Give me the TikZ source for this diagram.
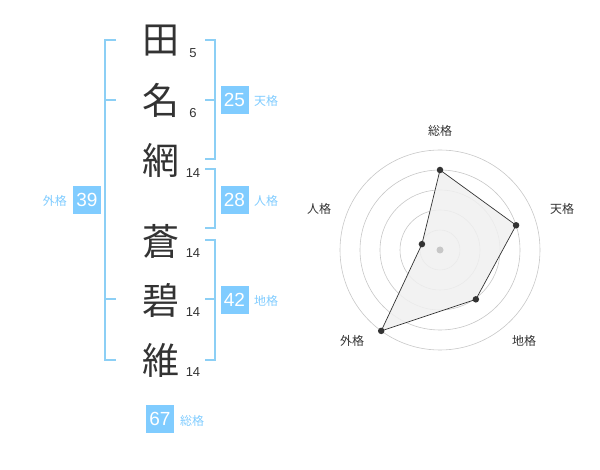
\documentclass[tikz,border=0pt]{standalone}
\usepackage{fontspec}
\setmainfont{Liberation Sans}
\newfontfamily\cjk{Noto Sans CJK JP}
\definecolor{kblue}{HTML}{80CCFF}
\definecolor{kline}{HTML}{8CCFF5}
\definecolor{ktext}{HTML}{333333}
\begin{document}
\begin{tikzpicture}[x=1pt,y=-1pt,
  bigchar/.style={font=\cjk\fontsize{37}{37}\selectfont,text=ktext,inner sep=0pt},
  strokes/.style={font=\fontsize{13}{13}\selectfont,text=ktext,inner sep=0pt},
  numbox/.style={fill=kblue,text=white,font=\fontsize{19}{19}\selectfont,minimum width=28pt,minimum height=28pt,inner sep=0pt},
  kaku/.style={font=\cjk\fontsize{12}{12}\selectfont,text=kblue,inner sep=0pt},
  bracket/.style={draw=kline,line width=2pt},
  ring/.style={draw=black!22,line width=0.6pt},
  rlabel/.style={font=\cjk\fontsize{12}{12}\selectfont,text=ktext,inner sep=0pt},
  vdot/.style={circle,fill=ktext,inner sep=0pt,minimum size=6.5pt}]
\useasboundingbox (0,0) rectangle (600,470);
% characters
\node[bigchar] (c1) at (161,41) {田};
\node[bigchar] (c2) at (161,100) {名};
\node[bigchar] (c3) at (161,160) {網};
\node[bigchar] (c4) at (161,241) {蒼};
\node[bigchar] (c5) at (161,300) {碧};
\node[bigchar] (c6) at (161,360) {維};
\node[strokes] (s1) at (193,53) {5};
\node[strokes] (s2) at (193,113) {6};
\node[strokes] (s3) at (193,173) {14};
\node[strokes] (s4) at (193,253) {14};
\node[strokes] (s5) at (193,312) {14};
\node[strokes] (s6) at (193,372) {14};
% brackets
\draw[bracket] (116,40) -- (105,40) -- (105,360) -- (116,360);
\draw[bracket] (105,100) -- (116,100);
\draw[bracket] (105,299) -- (116,299);
\draw[bracket] (205,40) -- (215,40) -- (215,159) -- (205,159);
\draw[bracket] (215,100) -- (205,100);
\draw[bracket] (205,169) -- (215,169) -- (215,228) -- (205,228);
\draw[bracket] (205,240) -- (215,240) -- (215,360) -- (205,360);
\draw[bracket] (215,299) -- (205,299);
% boxes
\node[numbox] (ten) at (234.5,100) {25};
\node[kaku,anchor=west] (tenl) at (254,101) {天格};
\node[numbox] (jin) at (234.5,200) {28};
\node[kaku,anchor=west] (jinl) at (254,201) {人格};
\node[numbox] (chi) at (234.5,300) {42};
\node[kaku,anchor=west] (chil) at (254,301) {地格};
\node[numbox] (gai) at (87,200) {39};
\node[kaku,anchor=east] (gail) at (67,201) {外格};
\node[numbox] (sou) at (160,419) {67};
\node[kaku,anchor=west] (soul) at (180,421) {総格};
% radar
\begin{scope}[shift={(440,250)},yscale=-1]
  \foreach \r in {20,40,60,80,100} \draw[ring] (0,0) circle (\r);
  \coordinate (pA) at (90:80);
  \coordinate (pB) at (18:80);
  \coordinate (pC) at (-54:61);
  \coordinate (pD) at (-126:100);
  \coordinate (pE) at (162:19);
  \fill[black!6,opacity=0.85] (pA) -- (pB) -- (pC) -- (pD) -- (pE) -- cycle;
  \draw[ktext,line width=0.7pt] (pA) -- (pB) -- (pC) -- (pD) -- (pE) -- cycle;
  \node[circle,fill=black!22,inner sep=0pt,minimum size=7pt] (ctr) at (0,0) {};
  \foreach \p in {pA,pB,pC,pD,pE} \node[vdot] at (\p) {};
\end{scope}
\node[rlabel] (lA) at (440,131) {総格};
\node[rlabel] (lB) at (562,209) {天格};
\node[rlabel] (lC) at (524,341) {地格};
\node[rlabel] (lD) at (352,341) {外格};
\node[rlabel] (lE) at (319,209) {人格};
\end{tikzpicture}
\end{document}
